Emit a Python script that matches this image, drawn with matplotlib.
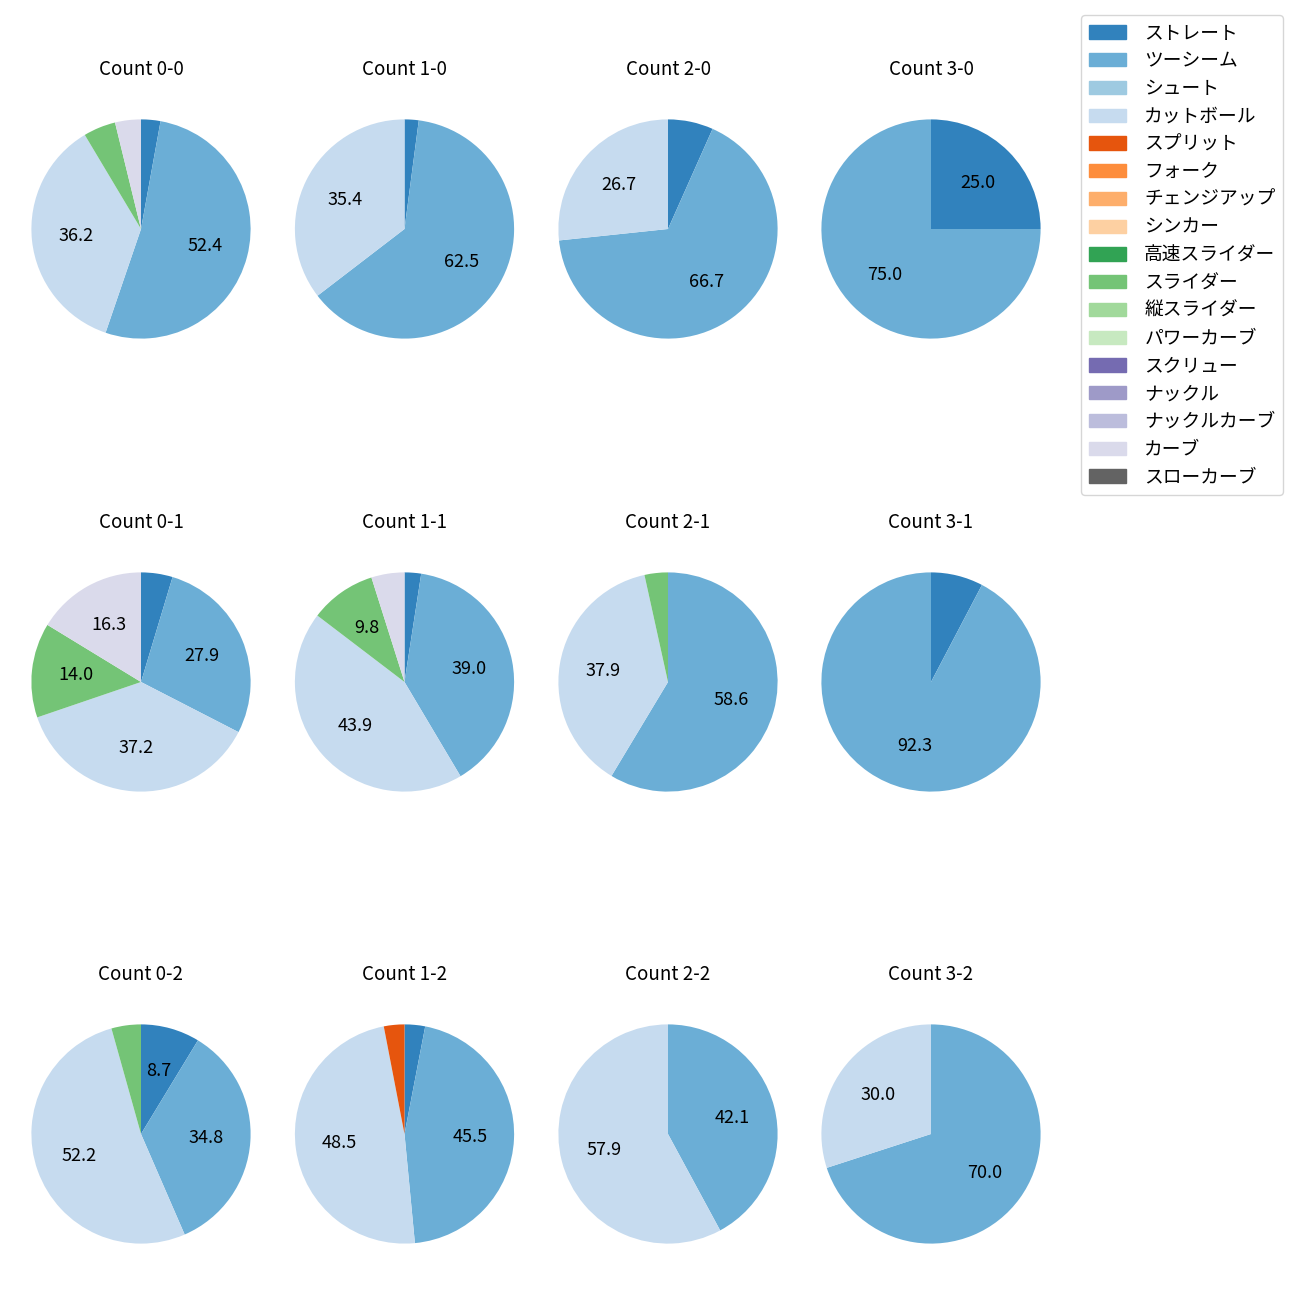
import matplotlib
matplotlib.use('Agg')
import matplotlib.pyplot as plt
from matplotlib.patches import Patch

plt.rcParams['font.family'] = ['Noto Sans CJK JP', 'DejaVu Sans']

pitch_types = ['ストレート', 'ツーシーム', 'シュート', 'カットボール', 'スプリット', 'フォーク',
               'チェンジアップ', 'シンカー', '高速スライダー', 'スライダー', '縦スライダー',
               'パワーカーブ', 'スクリュー', 'ナックル', 'ナックルカーブ', 'カーブ', 'スローカーブ']

count_labels = ['0-0', '1-0', '2-0', '3-0',
                '0-1', '1-1', '2-1', '3-1',
                '0-2', '1-2', '2-2', '3-2']

# pitches thrown per count (only the types that appear)
c00 = {'ストレート': 3, 'ツーシーム': 55, 'カットボール': 38, 'スライダー': 5, 'カーブ': 4}
c10 = {'ストレート': 1, 'ツーシーム': 30, 'カットボール': 17}
c20 = {'ストレート': 1, 'ツーシーム': 10, 'カットボール': 4}
c30 = {'ストレート': 1, 'ツーシーム': 3}
c01 = {'ストレート': 2, 'ツーシーム': 12, 'カットボール': 16, 'スライダー': 6, 'カーブ': 7}
c11 = {'ストレート': 1, 'ツーシーム': 16, 'カットボール': 18, 'スライダー': 4, 'カーブ': 2}
c21 = {'ツーシーム': 17, 'カットボール': 11, 'スライダー': 1}
c31 = {'ストレート': 1, 'ツーシーム': 12}
c02 = {'ストレート': 2, 'ツーシーム': 8, 'カットボール': 12, 'スライダー': 1}
c12 = {'ストレート': 1, 'ツーシーム': 15, 'カットボール': 16, 'スプリット': 1}
c22 = {'ツーシーム': 8, 'カットボール': 11}
c32 = {'ツーシーム': 7, 'カットボール': 3}
counts = [c00, c10, c20, c30, c01, c11, c21, c31, c02, c12, c22, c32]

cmap = plt.get_cmap('tab20c')
colors = {p: cmap(i) for i, p in enumerate(pitch_types)}

fig = plt.figure(figsize=(13, 13), dpi=100)
W = H = 1300
col_x = [141, 404.5, 668, 931]
row_y = [229, 682, 1134]
s = 274  # axes side in px (pie radius ~109px)

for i, (lab, d) in enumerate(zip(count_labels, counts)):
    cx = col_x[i % 4]
    cy = row_y[i // 4]
    ax = fig.add_axes([(cx - s / 2) / W, 1 - (cy + s / 2) / H, s / W, s / H])
    names = [p for p in pitch_types if d.get(p, 0) > 0]
    vals = [d[p] for p in names]
    ax.pie(vals, colors=[colors[p] for p in names], startangle=90, counterclock=False,
           autopct=lambda p: f'{p:.1f}' if p >= 8 else '',
           textprops={'fontsize': 13})
    ax.set_title(f'Count {lab}', fontsize=13.5, pad=12)

handles = [Patch(color=colors[p]) for p in pitch_types]
fig.legend(handles, pitch_types, loc='upper right', bbox_to_anchor=(1283 / W, 1 - 15 / H),
           borderaxespad=0, fontsize=13.5, labelspacing=0.36, handletextpad=0.95)

fig.savefig('out.png')
